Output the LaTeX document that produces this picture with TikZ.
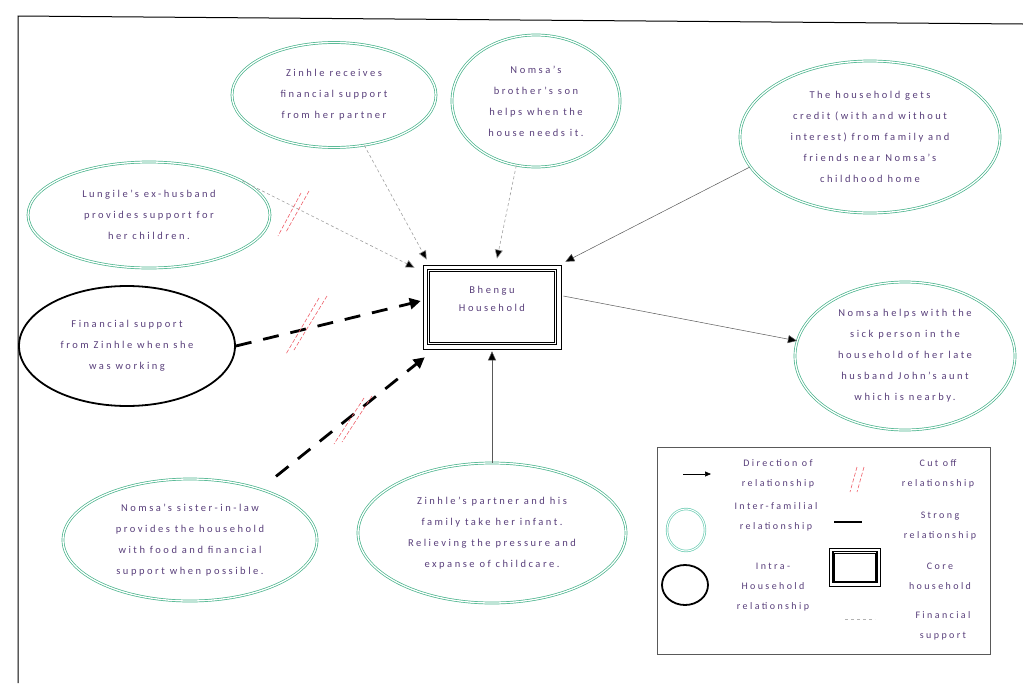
\documentclass[tikz,border=0pt]{standalone}
\usepackage{fontspec}
\setmainfont{Carlito}[LetterSpace=24]
\usetikzlibrary{arrows.meta,calc,shapes.geometric}
\definecolor{fam}{RGB}{70,178,138}
\definecolor{famlite}{RGB}{110,205,180}
\definecolor{txt}{RGB}{88,62,122}
\definecolor{cutred}{RGB}{238,95,105}
\tikzset{
  famnode/.style={ellipse, draw=fam, double=white, double distance=1.3pt, line width=0.7pt,
    inner sep=0pt, align=center, text=txt, font=\fontsize{10.5}{21}\selectfont},
  intranode/.style={ellipse, draw=black, line width=1.8pt, inner sep=0pt, align=center,
    text=txt, font=\fontsize{10.5}{21}\selectfont},
  lbl/.style={align=center, text=txt, font=\fontsize{10.5}{18}\selectfont, inner sep=0pt},
  leglbl/.style={align=center, text=txt, font=\fontsize{10}{20}\selectfont, inner sep=0pt},
  fin/.style={draw=gray!75, line width=0.6pt, dash pattern=on 3pt off 2.5pt,
    -{Triangle[length=9pt,width=8pt,fill=black]}},
  thinarrow/.style={draw=gray!70!black, line width=0.5pt, -{Triangle[length=9pt,width=8pt,fill=black]}},
  strongfin/.style={line width=2.8pt, dash pattern=on 16pt off 12pt,
    -{Triangle[length=11pt,width=11pt]}},
  cutmark/.style={draw=cutred, line width=0.6pt, dash pattern=on 4pt off 2pt},
}
\begin{document}
\begin{tikzpicture}[x=1pt,y=-1pt]
\useasboundingbox (0,0) rectangle (1023,683);
% frame
\draw[line width=1pt] (18,683) -- (18,16) -- (1023,24);

% nodes
\node[famnode, minimum width=204pt, minimum height=105pt] (n1) at (334,95)
  {Zinhle receives\\financial support\\from her partner};
\node[famnode, minimum width=168pt, minimum height=132pt] (n2) at (536,101)
  {Nomsa's\\brother's son\\helps when the\\house needs it.};
\node[famnode, minimum width=260pt, minimum height=152pt] (n3) at (870,137)
  {The household gets\\credit (with and without\\interest) from family and\\friends near Nomsa's\\childhood home};
\node[famnode, minimum width=242pt, minimum height=106pt] (n4) at (149,215)
  {Lungile's ex-husband\\provides support for\\her children.};
\node[intranode, minimum width=216pt, minimum height=120pt] (n5) at (127,346)
  {Financial support\\from Zinhle when she\\was working};
\node[famnode, minimum width=220pt, minimum height=148pt] (n6) at (905,356)
  {Nomsa helps with the\\sick person in the\\household of her late\\husband John's aunt\\which is nearby.};
\node[famnode, minimum width=254pt, minimum height=122pt] (n7) at (190,540)
  {Nomsa's sister-in-law\\provides the household\\with food and financial\\support when possible.};
\node[famnode, minimum width=268pt, minimum height=140pt] (n8) at (492,533)
  {Zinhle's partner and his\\family take her infant.\\Relieving the pressure and\\expanse of childcare.};

% core household box
\node[draw, line width=1.6pt, minimum width=129pt, minimum height=75pt, inner sep=0pt] (box) at (492,307) {};
\draw[line width=0.6pt] ($(box.north west)+(-3.5pt,3.5pt)$) rectangle ($(box.south east)+(3.5pt,-3.5pt)$);
\draw[line width=0.6pt] ($(box.north west)+(2.8pt,-2.8pt)$) rectangle ($(box.south east)+(-2.8pt,2.8pt)$);
\node[lbl] (boxlbl) at (492,299) {Bhengu\\Household};

% connectors
\draw[fin] (n1.-59) -- ($(box.north west)+(0pt,9pt)$);
\draw[fin] (n4.20) -- ($(box.north west)+(-12pt,1pt)$);
\draw[fin] (n2.-107) -- ($(box.north)+(5pt,10pt)$);
\draw[thinarrow] (n3.194) -- ($(box.north east)+(8pt,7pt)$);
\draw[thinarrow] ($(box.east)+(6pt,11pt)$) -- (n6.172);
\draw[strongfin] (n5.east) -- ($(box.west)+(-6pt,6pt)$);
\draw[strongfin, shorten <=20pt] (n7.36) -- ($(box.south west)+(-2pt,-12pt)$);
\draw[thinarrow] (n8.north) -- ($(box.south)+(0pt,-6pt)$);

% cut-off marks
\draw[cutmark] (309,191) -- (286,232);
\draw[cutmark] (301,193) -- (278,236);
\draw[cutmark] (327,296) -- (294,350);
\draw[cutmark] (319,298) -- (286,354);
\draw[cutmark] (372,396) -- (342,442);
\draw[cutmark] (364,398) -- (334,444);

% legend
\draw[line width=0.6pt, draw=gray!70!black] (657,447) rectangle (990,654);
\coordinate (la1) at (683,474);
\coordinate (la2) at (711,474);
\draw[line width=0.6pt, -{Triangle[length=6pt,width=5pt]}] (la1) -- (la2);
\node[leglbl] (lt1) at (778,474) {Direction of\\relationship};
\draw[cutmark] (857,467) -- (850,492);
\draw[cutmark] (864,467) -- (857,492);
\node[leglbl] (lt2) at (938,474) {Cut off\\relationship};
\node[ellipse, draw=famlite, double=white, double distance=1pt, line width=0.7pt,
  minimum width=38pt, minimum height=42pt, inner sep=0pt] (lfam) at (686,530) {};
\node[leglbl] (lt3) at (776,517) {Inter-familial\\relationship};
\coordinate (ls1) at (834,522);
\coordinate (ls2) at (862,522);
\draw[line width=1.6pt] (ls1) -- (ls2);
\node[leglbl] (lt4) at (940,526) {Strong\\relationship};
\node[ellipse, draw=black, line width=1.8pt, minimum width=46pt, minimum height=40pt, inner sep=0pt]
  (lintra) at (685,585) {};
\node[leglbl] (lt5) at (773,587) {Intra-\\Household\\relationship};
\node[draw, line width=1.4pt, minimum width=44pt, minimum height=31pt, inner sep=0pt] (lbox) at (855,567) {};
\draw[line width=0.5pt] ($(lbox.north west)+(-3pt,3pt)$) rectangle ($(lbox.south east)+(3pt,-3pt)$);
\draw[line width=0.5pt] ($(lbox.north west)+(2.3pt,-2.3pt)$) rectangle ($(lbox.south east)+(-2.3pt,2.3pt)$);
\node[leglbl] (lt6) at (940,576) {Core\\household};
\coordinate (lf1) at (845,619);
\coordinate (lf2) at (875,619);
\draw[draw=gray!60, line width=0.6pt, dash pattern=on 3pt off 3pt] (lf1) -- (lf2);
\node[leglbl] (lt7) at (943,626) {Financial\\support};
\end{tikzpicture}
\end{document}
